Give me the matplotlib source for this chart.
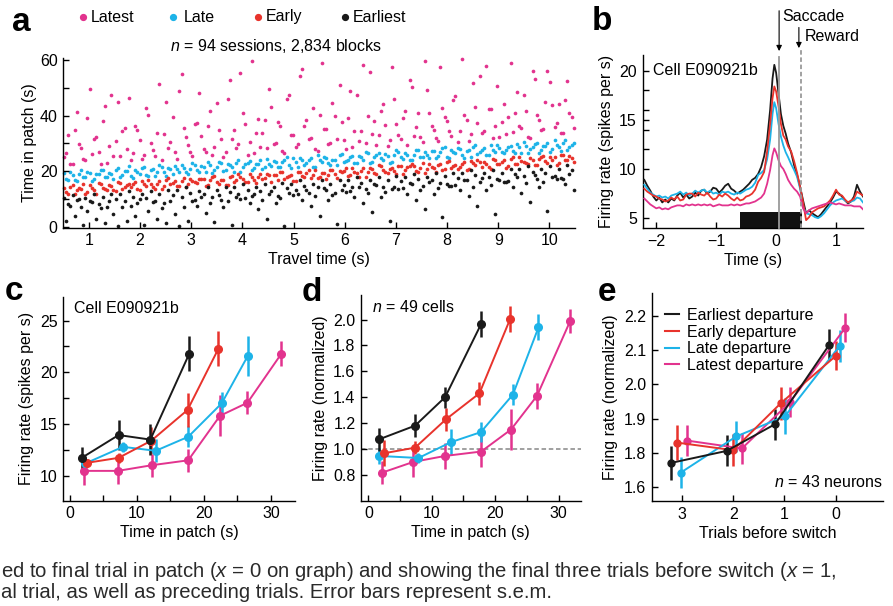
import matplotlib
matplotlib.use('Agg')
import matplotlib.pyplot as plt
from matplotlib.lines import Line2D
from matplotlib.patches import Rectangle

plt.rcParams['font.family'] = ['Liberation Sans', 'DejaVu Sans']
plt.rcParams['mathtext.fontset'] = 'custom'
plt.rcParams['mathtext.it'] = 'Liberation Sans:italic'
plt.rcParams['mathtext.rm'] = 'Liberation Sans'
plt.rcParams['axes.linewidth'] = 1.0
plt.rcParams['xtick.direction'] = 'in'
plt.rcParams['ytick.direction'] = 'in'

# ---------------- colours ----------------
C_LATEST = '#e2338e'
C_LATE = '#1db3e8'
C_EARLY = '#e8332c'
C_EARLIEST = '#1a1a1a'

# ---------------- panel a data ----------------
travel_x_a = [0.52,0.6,0.68,0.77,0.85,0.93,1.02,1.1,1.19,1.27,1.36,1.44,1.53,1.61,1.7,1.78,1.87,1.95,2.04,2.12,
              2.21,2.3,2.38,2.47,2.55,2.64,2.72,2.81,2.9,2.98,3.07,3.15,3.24,3.32,3.41,3.5,3.58,3.67,3.75,3.84,
              3.92,4.01,4.1,4.18,4.27,4.35,4.44,4.52,4.61,4.7,4.78,4.87,4.95,5.04,5.12,5.21,5.3,5.38,5.47,5.55,
              5.64,5.72,5.81,5.9,5.98,6.07,6.15,6.24,6.32,6.41,6.5,6.58,6.67,6.75,6.84,6.92,7.01,7.1,7.18,7.27,
              7.35,7.44,7.52,7.61,7.7,7.78,7.87,7.95,8.04,8.12,8.21,8.3,8.38,8.47,8.55,8.64,8.72,8.81,8.9,8.98,
              9.07,9.15,9.24,9.32,9.41,9.5,9.58,9.67,9.75,9.84,9.92,10.01,10.1,10.18,10.27,10.35,10.44]
travel_x_b = [0.56,0.64,0.72,0.81,0.89,0.97,1.06,1.14,1.23,1.31,1.4,1.48,1.57,1.65,1.74,1.82,1.91,1.99,2.08,2.16,
              2.25,2.34,2.42,2.51,2.59,2.68,2.76,2.85,2.94,3.02,3.11,3.19,3.28,3.36,3.45,3.54,3.62,3.71,3.79,3.88,
              3.96,4.05,4.14,4.22,4.31,4.39,4.48,4.56,4.65,4.74,4.82,4.91,4.99,5.08,5.16,5.25,5.34,5.42,5.51,5.59,
              5.68,5.76,5.85,5.94,6.02,6.11,6.19,6.28,6.36,6.45,6.54,6.62,6.71,6.79,6.88,6.96,7.05,7.14,7.22,7.31,
              7.39,7.48,7.56,7.65,7.74,7.82,7.91,7.99,8.08,8.16,8.25,8.34,8.42,8.51,8.59,8.68,8.76,8.85,8.94,9.02,
              9.11,9.19,9.28,9.36,9.45,9.54,9.62,9.71,9.79,9.88,9.96,10.05,10.14,10.22,10.31,10.39,10.48]

late_y_a = [19.4,17.0,18.6,16.4,20.5,18.0,19.5,17.1,19.0,20.6,18.1,19.0,20.3,17.9,20.0,21.8,17.6,19.8,21.2,18.8,
            20.4,18.2,22.3,19.8,21.3,18.9,20.8,22.4,19.9,20.8,22.1,19.6,21.7,23.5,19.3,21.5,22.9,20.5,22.1,19.9,
            24.0,21.5,23.0,20.6,22.5,24.1,21.6,22.5,23.8,21.4,23.5,25.3,21.1,23.3,24.7,22.3,23.9,21.7,25.7,23.2,
            24.7,22.3,24.2,25.8,23.3,24.2,25.5,23.1,25.2,27.0,22.8,25.0,26.4,24.0,25.6,23.4,27.5,25.0,26.5,24.1,
            26.0,27.6,25.1,26.0,27.3,24.9,27.0,28.8,24.6,26.8,28.2,25.8,27.4,25.2,29.3,26.8,28.3,25.9,27.8,29.4,
            26.9,27.8,29.1,26.7,28.8,30.6,26.4,28.6,30.0,27.6,29.2,27.0,31.1,28.6,30.1,27.7,29.6]
late_y_b = [17.3,19.9,16.7,19.2,18.1,19.7,16.5,19.2,20.3,17.9,19.3,17.4,21.2,18.7,20.2,18.2,20.6,19.0,21.6,18.4,
            20.9,19.8,21.4,18.2,20.9,22.0,19.6,21.0,19.1,22.9,20.4,21.8,19.8,22.2,20.6,23.2,20.0,22.5,21.4,23.0,
            19.8,22.5,23.6,21.2,22.6,20.7,24.5,22.0,23.5,21.5,23.9,22.3,24.9,21.7,24.2,23.1,24.7,21.5,24.1,25.2,
            22.8,24.2,22.3,26.1,23.6,25.1,23.1,25.5,23.9,26.5,23.3,25.8,24.7,26.3,23.1,25.8,26.9,24.5,25.9,24.0,
            27.8,25.3,26.8,24.8,27.2,25.6,28.2,25.0,27.5,26.4,28.0,24.8,27.5,28.6,26.2,27.6,25.7,29.5,27.0,28.5,
            26.5,28.9,27.3,29.9,26.7,29.2,28.1,29.7,26.5,29.2,30.3,27.9,29.3,27.4,31.2,28.7,30.2]
early_y_a = [14.0,12.0,15.0,13.1,13.8,11.9,14.9,13.1,15.9,14.1,13.1,14.8,12.8,15.8,14.4,15.6,15.6,13.6,16.6,14.7,
             15.4,13.5,16.5,14.7,17.5,15.7,14.7,16.4,14.4,17.4,16.0,17.1,17.1,15.1,18.1,16.2,16.9,15.0,18.0,16.2,
             19.0,17.2,16.2,17.9,15.9,18.9,17.5,18.7,18.7,16.7,19.7,17.8,18.5,16.6,19.6,17.8,20.6,18.8,17.7,19.4,
             17.4,20.4,19.0,20.2,20.2,18.2,21.2,19.3,20.0,18.1,21.1,19.3,22.1,20.3,19.3,21.0,19.0,22.0,20.6,21.8,
             21.8,19.8,22.8,20.9,21.6,19.7,22.7,20.9,23.7,21.9,20.9,22.6,20.6,23.6,22.2,23.4,23.4,21.4,24.4,22.5,
             23.2,21.3,24.3,22.5,25.3,23.5,22.5,24.2,22.2,25.2,23.8,25.0,25.0,23.0,26.0,24.1,24.8]
early_y_b = [12.7,14.5,11.9,14.1,15.3,12.7,13.9,12.0,15.4,13.8,15.1,13.1,16.2,13.8,15.0,14.2,16.0,13.4,15.6,16.8,
             14.2,15.4,13.5,16.9,15.3,16.6,14.6,17.7,15.3,16.5,15.7,17.4,14.8,17.0,18.2,15.6,16.8,14.9,18.3,16.7,
             18.0,16.0,19.1,16.7,17.9,17.1,18.9,16.3,18.5,19.7,17.1,18.3,16.4,19.8,18.2,19.5,17.5,20.6,18.1,19.3,
             18.5,20.3,17.7,19.9,21.1,18.5,19.7,17.8,21.2,19.6,20.9,18.9,22.0,19.6,20.8,20.0,21.8,19.2,21.4,22.6,
             20.0,21.2,19.3,22.7,21.1,22.4,20.4,23.5,21.1,22.3,21.5,23.3,20.7,22.9,24.1,21.5,22.7,20.8,24.2,22.6,
             23.9,21.9,25.0,22.6,23.8,23.0,24.8,22.2,24.4,25.6,23.0,24.2,22.3,25.7,24.1,25.4,23.4]
earliest_y_a = [10.5,8.1,11.6,9.6,7.2,10.5,9.2,11.7,8.2,10.6,7.2,11.9,10.1,11.8,9.4,12.9,10.9,8.5,11.8,10.5,
                13.0,9.5,11.9,8.5,13.2,11.4,13.1,10.7,14.2,12.2,9.8,13.0,11.7,14.2,10.7,13.1,9.7,14.4,12.6,14.3,
                11.9,15.4,13.4,11.0,14.3,13.0,15.5,12.0,14.4,11.0,15.7,13.9,15.6,13.2,16.7,14.7,12.3,15.6,14.2,16.7,
                13.2,15.6,12.2,16.9,15.1,16.8,14.4,17.9,15.9,13.5,16.8,15.5,18.0,14.5,16.9,13.5,18.2,16.4,18.1,15.7,
                19.2,17.2,14.8,18.1,16.8,19.3,15.8,18.2,14.8,19.5,17.7,19.4,17.0,20.5,18.5,16.1,19.4,18.1,20.6,17.1,
                19.5,16.1,20.8,19.0,20.7,18.3,21.8,19.8,17.4,20.7,19.4,21.9,18.4,20.8,17.4,22.1,20.3]
earliest_y_b = [2.0,7.5,4.1,10.2,0.8,5.6,8.9,3.0,6.7,1.5,9.4,4.8,0.3,7.0,2.0,7.5,4.1,10.2,0.8,5.6,
                8.9,3.0,6.7,1.5,9.4,4.8,0.3,7.0,2.0,9.4,7.4,10.8,5.1,8.6,1.8,11.6,7.3,9.2,0.6,10.9,
                10.1,10.5,8.5,12.0,6.3,9.8,3.0,12.8,8.5,10.4,0.4,12.1,11.3,11.7,9.7,13.2,7.5,11.0,4.1,13.9,
                9.6,11.5,1.0,13.2,12.4,12.8,10.8,14.3,8.6,12.1,5.3,15.1,10.8,12.7,2.2,14.4,13.6,14.0,12.0,15.5,
                9.8,13.3,6.5,16.3,12.0,13.9,3.4,15.6,14.8,15.2,13.2,16.7,11.0,14.5,7.7,17.5,13.2,15.1,4.6,16.8,
                16.0,16.4,14.4,17.9,12.2,15.7,8.9,18.7,14.4,16.3,5.8,18.0,17.2,17.6,15.6,19.1,13.4]
latest_y_a = [25.0,33.1,22.7,41.3,28.4,24.0,49.6,31.7,26.8,37.9,22.8,47.5,30.7,25.5,35.4,46.5,26.6,34.7,24.3,42.9,
              30.0,25.6,51.2,33.3,28.4,39.5,24.4,55.0,32.3,27.1,37.0,48.0,28.1,36.2,25.8,44.4,31.5,27.1,52.7,34.8,
              29.9,41.0,25.9,59.6,33.8,28.6,38.5,49.6,29.7,37.8,27.4,46.0,33.1,28.7,54.3,36.4,31.5,42.6,27.4,58.8,
              35.3,30.1,40.0,51.1,31.2,39.3,28.9,47.5,34.6,30.2,55.8,37.9,33.0,44.1,29.0,57.4,36.9,31.7,41.6,52.7,
              32.8,40.9,30.5,49.1,36.2,31.8,57.4,39.5,34.6,45.7,30.6,60.3,38.5,33.3,43.2,54.3,34.4,42.5,32.1,50.7,
              37.8,33.4,59.0,41.1,36.2,47.3,32.2,55.9,40.1,34.9,44.8,52.0,36.0,44.1,33.7,52.3,39.4]
latest_y_b = [26.5,22.6,34.7,29.8,24.4,39.0,26.1,32.2,22.5,43.4,29.0,25.6,45.0,34.3,27.9,24.0,36.1,31.2,25.8,40.4,
              27.5,33.6,23.9,44.8,30.4,27.0,49.0,35.7,29.3,25.4,37.5,32.5,27.1,41.7,28.8,34.9,25.2,46.1,31.7,28.3,
              55.4,37.0,30.6,26.7,38.8,33.9,28.5,43.1,30.2,36.3,26.6,47.5,33.1,29.7,56.8,38.4,32.0,28.1,40.1,35.2,
              29.8,44.4,31.5,37.6,27.9,48.8,34.4,31.0,58.1,39.7,33.3,29.4,41.5,36.6,31.2,45.8,32.9,39.0,29.3,50.2,
              35.8,32.4,59.5,41.1,34.7,30.8,42.9,38.0,32.6,47.2,34.3,40.4,30.7,51.6,37.2,33.8,57.8,42.5,36.1,32.2,
              44.3,39.4,34.0,48.6,35.7,41.8,32.1,53.0,38.6,35.2,56.2,43.9,37.5,33.6,45.7,40.8,35.4]

# ---------------- panel b data ----------------
time_s = [-2.2,-2.15,-2.1,-2.05,-2.0,-1.95,-1.9,-1.85,-1.8,-1.75,-1.7,-1.65,-1.6,-1.55,-1.5,-1.45,-1.4,-1.35,-1.3,-1.25,
          -1.2,-1.15,-1.1,-1.05,-1.0,-0.95,-0.9,-0.85,-0.8,-0.75,-0.7,-0.65,-0.6,-0.55,-0.5,-0.45,-0.4,-0.35,-0.3,-0.25,
          -0.2,-0.15,-0.1,-0.06,-0.03,0.0,0.04,0.08,0.12,0.16,0.2,
          0.25,0.3,0.35,0.4,0.45,0.5,0.55,0.6,0.65,0.7,0.75,0.8,0.85,0.9,0.95,1.0,1.05,1.1,1.15,1.2,1.25,1.3,1.35,1.4,1.45]
rate_earliest = [8.9,8.3,7.8,7.2,6.8,7.1,6.6,6.9,6.6,7.0, 6.8,7.3,7.6,7.1,7.4,7.0,7.2,7.6,7.3,7.8,
                 7.9,7.5,7.7,8.1,8.0,7.6,7.9,8.3,8.5,8.0, 7.8,7.5,7.7,7.9,8.2,8.5,8.9,9.1,9.5,10.2,
                 11.3,13.0,16.0,19.2,20.6,19.8,17.7,15.6,14.4,13.6,12.6,
                 11.7,10.4,9.4,8.2,6.8,5.5,5.8,5.5,5.3,5.1, 5.4,5.8,6.2,6.6,7.1,7.7,7.5,7.2,6.8,6.5, 6.7,7.2,8.4,7.7,7.2]
rate_late = [8.4,8.0,7.6,7.4,7.2,7.3,7.1,7.2,7.0,7.3, 7.4,7.5,7.7,7.4,7.6,7.3,7.5,7.8,7.6,7.8,
             7.9,7.6,7.8,7.5,7.6,7.4,7.7,7.6,7.7,7.5, 7.4,7.6,7.5,7.7,7.9,8.0,8.2,8.6,9.4,9.6,
             9.9,11.0,13.0,15.6,16.8,16.2,14.6,13.3,12.4,11.7,11.2,
             10.5,9.9,9.2,8.0,6.2,5.5,5.4,5.3,5.1,5.0, 5.2,5.5,5.9,6.3,6.6,6.8,6.9,7.0,6.8,6.6, 6.7,6.8,7.1,7.0,6.6]
rate_early = [8.0,7.7,7.5,7.3,7.2,7.0,6.9,6.7,6.8,7.1, 6.9,7.2,6.8,6.9,7.4,7.5,7.5,7.2,7.6,7.4,
              7.3,7.6,7.2,6.9,7.0,7.4,7.2,7.5,7.3,7.0, 6.8,7.1,6.8,6.9,7.2,7.3,7.5,7.9,8.7,9.1,
              9.7,11.8,14.6,17.2,18.4,17.9,16.4,14.6,13.4,13.0,12.3,
              11.8,10.8,9.6,8.2,6.6,4.8,5.1,5.6,5.8,6.0, 6.1,6.2,6.5,6.8,7.3,7.9,7.4,7.3,6.9,6.6, 6.8,7.0,7.7,7.5,7.3]
rate_latest = [7.0,6.7,6.4,6.2,6.0,6.1,5.9,6.0,5.9,6.1, 6.2,6.3,6.3,6.2,6.4,6.3,6.4,6.3,6.4,6.3,
               6.4,6.3,6.4,6.2,6.3,6.4,6.3,6.3,6.3,6.4, 6.3,6.4,6.3,6.4,6.5,6.5,6.6,6.7,6.9,7.1,
               7.5,8.5,9.9,11.4,12.1,11.7,10.9,10.3,10.0,9.5,8.9,
               8.4,8.0,7.7,7.2,6.0,5.5,5.8,6.0,6.1,6.2, 6.3,6.4,6.5,6.6,6.5,6.4,6.5,6.4,6.3,6.3, 6.3,6.2,6.2,6.2,5.9]
saccade_t = 0.05
reward_t = 0.42
epoch_t = [-0.6, 0.43]

# ---------------- panel c data ----------------
c_x = {'earliest': [1.75, 7.26, 12.0, 17.8],
       'early': [2.56, 7.26, 12.15, 17.55, 22.15],
       'late': [2.3, 7.9, 12.8, 17.65, 22.65, 26.55],
       'latest': [2.06, 7.15, 12.25, 17.65, 22.4, 26.5, 31.55]}
c_y = {'earliest': [11.74, 13.94, 13.5, 21.78],
       'early': [11.26, 11.74, 13.4, 16.36, 22.26],
       'late': [11.2, 12.8, 12.42, 13.77, 17.0, 21.58],
       'latest': [10.48, 10.48, 11.03, 11.5, 15.8, 17.06, 21.78]}
c_err = {'earliest': [1.05, 1.45, 1.5, 1.7],
         'early': [0.3, 0.5, 1.3, 1.6, 1.7],
         'late': [0.4, 0.5, 1.1, 1.0, 1.1, 1.9],
         'latest': [1.4, 1.3, 1.1, 1.1, 2.0, 1.1, 1.2]}

# ---------------- panel d data ----------------
d_x = {'earliest': [1.72, 7.36, 12.1, 17.8],
       'early': [2.5, 7.36, 12.26, 17.52, 22.37],
       'late': [1.72, 7.9, 13.0, 17.74, 22.8, 26.84],
       'latest': [2.1, 7.1, 12.1, 17.8, 22.5, 26.6, 31.85]}
d_y = {'earliest': [1.075, 1.18, 1.40, 1.967],
       'early': [0.967, 1.01, 1.23, 1.43, 2.005],
       'late': [0.946, 0.93, 1.052, 1.13, 1.42, 1.94],
       'latest': [0.816, 0.90, 0.946, 0.98, 1.15, 1.41, 1.99]}
d_err = {'earliest': [0.09, 0.09, 0.08, 0.1],
         'early': [0.1, 0.05, 0.09, 0.09, 0.1],
         'late': [0.06, 0.04, 0.1, 0.08, 0.08, 0.1],
         'latest': [0.09, 0.12, 0.1, 0.12, 0.155, 0.1, 0.09]}

# ---------------- panel e data ----------------
e_x = {'earliest': [3.21, 2.125, 1.18, 0.125],
       'early': [3.09, 2.0, 1.07, -0.006],
       'late': [3.02, 1.94, 0.99, -0.08],
       'latest': [2.9, 1.83, 0.89, -0.19]}
e_y = {'earliest': [1.771, 1.806, 1.884, 2.115],
       'early': [1.83, 1.808, 1.945, 2.083],
       'late': [1.743, 1.848, 1.907, 2.112],
       'latest': [1.836, 1.813, 1.948, 2.165]}
e_err = {'earliest': [0.049, 0.045, 0.045, 0.045],
         'early': [0.05, 0.046, 0.048, 0.042],
         'late': [0.044, 0.044, 0.053, 0.046],
         'latest': [0.045, 0.044, 0.044, 0.043]}
e_ticks = [1.7, 1.8, 1.9, 2.0, 2.1, 2.2]
e_ticklabels = ['1.6', '1.8', '1.9', '2.0', '2.1', '2.2']
e_legend = ['Earliest departure', 'Early departure', 'Late departure', 'Latest departure']

colors = {'earliest': C_EARLIEST, 'early': C_EARLY, 'late': C_LATE, 'latest': C_LATEST}
order = ['latest', 'late', 'early', 'earliest']

W, H = 893, 606
fig = plt.figure(figsize=(W / 100, H / 100), dpi=100)


def rect(l, t, r, b):
    return [l / W, 1 - b / H, (r - l) / W, (b - t) / H]


FS = 11.5


def style(ax):
    for s in ['top', 'right']:
        ax.spines[s].set_visible(False)
    ax.tick_params(labelsize=FS, length=4, width=1.0, pad=4)
    ax.tick_params(which='minor', length=4, width=1.0)


# ---------------- panel a ----------------
axa = fig.add_axes(rect(63.3, 58, 575, 227.5))
style(axa)
for xs, ys, col in [(travel_x_a, latest_y_a, C_LATEST), (travel_x_b, latest_y_b, C_LATEST),
                    (travel_x_a, late_y_a, C_LATE), (travel_x_b, late_y_b, C_LATE),
                    (travel_x_a, early_y_a, C_EARLY), (travel_x_b, early_y_b, C_EARLY),
                    (travel_x_a, earliest_y_a, C_EARLIEST), (travel_x_b, earliest_y_b, C_EARLIEST)]:
    axa.scatter(xs, ys, s=7, c=col, linewidths=0, clip_on=False)
axa.set_xlim(0.5, 10.5)
axa.set_ylim(-0.2, 60.7)
axa.set_xticks(range(1, 11))
axa.set_yticks([0, 20, 40, 60])
axa.set_yticks([10, 30, 50], minor=True)
axa.set_xlabel('Travel time (s)', fontsize=FS, labelpad=3)
axa.set_ylabel('Time in patch (s)', fontsize=FS, labelpad=2)
fig.text(276 / W, 1 - 46 / H, '$n$ = 94 sessions, 2,834 blocks', ha='center', va='center', fontsize=FS)

# legend of panel a
for mx, tx, lab, col in [(82.8, 90.5, 'Latest', C_LATEST), (173.2, 184, 'Late', C_LATE),
                         (257.5, 266, 'Early', C_EARLY), (344.8, 352.5, 'Earliest', C_EARLIEST)]:
    fig.add_artist(Line2D([mx / W], [1 - 17 / H], marker='o', ms=4.2, color=col, lw=0,
                          transform=fig.transFigure))
    fig.text(tx / W, 1 - 17 / H, lab, ha='left', va='center', fontsize=FS)

# ---------------- panel b ----------------
axb = fig.add_axes(rect(642.5, 55, 863, 228))
style(axb)
axb.set_xlim(-2.23, 1.45)
axb.set_ylim(4.0, 21.6)
axb.add_patch(Rectangle((epoch_t[0], 4.0), epoch_t[1] - epoch_t[0], 1.6, color='#111111', lw=0, zorder=2))
axb.plot([saccade_t, saccade_t], [4.0, 21.4], color='#9a9a9a', lw=1.3, zorder=4, clip_on=False)
axb.plot([reward_t, reward_t], [4.0, 22.1], color='#9a9a9a', lw=1.3, ls=(0, (2.5, 1.5)), zorder=4, clip_on=False)
for rates, col in [(rate_earliest, C_EARLIEST), (rate_late, C_LATE), (rate_early, C_EARLY), (rate_latest, C_LATEST)]:
    axb.plot(time_s, rates, color=col, lw=1.3, zorder=3)
axb.set_xticks([-2, -1, 0, 1])
axb.set_xticklabels(['\u22122', '\u22121', '0', '1'])
axb.set_yticks([5, 10, 15, 20])
axb.set_yticks([12, 14, 16, 18], minor=True)
axb.set_xlabel('Time (s)', fontsize=FS, labelpad=3)
axb.set_ylabel('Firing rate (spikes per s)', fontsize=FS, labelpad=4)
axb.text(-2.05, 20.0, 'Cell E090921b', fontsize=FS, ha='left', va='center')
axb.annotate('', xy=(saccade_t, 22.0), xytext=(saccade_t, 26.1), annotation_clip=False,
             arrowprops=dict(arrowstyle='-|>', color='k', lw=0.8, mutation_scale=8, shrinkA=0, shrinkB=0))
axb.annotate('', xy=(0.38, 22.3), xytext=(0.38, 24.4), annotation_clip=False,
             arrowprops=dict(arrowstyle='-|>', color='k', lw=0.8, mutation_scale=8, shrinkA=0, shrinkB=0))
axb.text(0.1, 25.5, 'Saccade', fontsize=FS, ha='left', va='center', clip_on=False)
axb.text(0.47, 23.5, 'Reward', fontsize=FS, ha='left', va='center', clip_on=False)


def err_panel(ax, xs, ys, es):
    for k in order:
        ax.errorbar(xs[k], ys[k], yerr=es[k], color=colors[k], marker='o', ms=5.5, lw=1.4,
                    elinewidth=1.8, capsize=0, clip_on=False)


# ---------------- panel c ----------------
axc = fig.add_axes(rect(63.3, 296.7, 295, 500.7))
style(axc)
err_panel(axc, c_x, c_y, c_err)
axc.set_xlim(-1.0, 33.6)
axc.set_ylim(7.6, 27.3)
axc.set_xticks([0, 10, 20, 30])
axc.set_xticks([5, 15, 25], minor=True)
axc.set_yticks([10, 15, 20, 25])
axc.set_yticks([12.5, 17.5, 22.5], minor=True)
axc.set_xlabel('Time in patch (s)', fontsize=FS, labelpad=3)
axc.set_ylabel('Firing rate (spikes per s)', fontsize=FS, labelpad=4)
axc.text(0.6, 26.2, 'Cell E090921b', fontsize=FS, ha='left', va='center')

# ---------------- panel d ----------------
axd = fig.add_axes(rect(361, 295, 580.7, 500.7))
style(axd)
axd.axhline(1.0, color='#999999', lw=1.3, ls=(0, (2.5, 1.5)), zorder=0)
err_panel(axd, d_x, d_y, d_err)
axd.set_xlim(-1.17, 33.5)
axd.set_ylim(0.60, 2.19)
axd.set_xticks([0, 10, 20, 30])
axd.set_xticks([5, 15, 25], minor=True)
axd.set_yticks([0.8, 1.0, 1.2, 1.4, 1.6, 1.8, 2.0])
axd.set_yticklabels(['0.8', '1.0', '1.2', '1.4', '1.6', '1.8', '2.0'])
axd.set_xlabel('Time in patch (s)', fontsize=FS, labelpad=3)
axd.set_ylabel('Firing rate (normalized)', fontsize=FS, labelpad=4)
axd.text(0.5, 2.1, '$n$ = 49 cells', fontsize=FS, ha='left', va='center')

# ---------------- panel e ----------------
axe = fig.add_axes(rect(651.7, 293.3, 883.3, 501))
style(axe)
for k in order:
    axe.errorbar(e_x[k], e_y[k], yerr=e_err[k], color=colors[k], marker='o', ms=5.0, lw=1.4,
                 elinewidth=1.8, capsize=0)
axe.set_xlim(3.59, -0.93)
axe.set_ylim(1.66, 2.265)
axe.set_xticks([3, 2, 1, 0])
axe.set_yticks(e_ticks)
axe.set_yticklabels(e_ticklabels)
axe.set_xlabel('Trials before switch', fontsize=FS, labelpad=3)
axe.set_ylabel('Firing rate (normalized)', fontsize=FS, labelpad=4)
handles = [Line2D([0], [0], color=colors[k], lw=1.5) for k in ['earliest', 'early', 'late', 'latest']]
axe.legend(handles, e_legend, loc='upper left', bbox_to_anchor=(0.03, 0.96), frameon=False,
           fontsize=FS, handlelength=0.9, handletextpad=0.5, labelspacing=0.1, borderaxespad=0)
axe.text(0.995, 0.09, '$n$ = 43 neurons', transform=axe.transAxes, fontsize=FS, ha='right', va='center')

# ---------------- panel letters ----------------
for lx, ly, letter in [(21, 31, 'a'), (602, 30, 'b'), (14, 300, 'c'), (312, 301, 'd'), (607, 301, 'e')]:
    fig.text(lx / W, 1 - ly / H, letter, fontsize=24, fontweight='bold', ha='center', va='baseline')

# ---------------- caption fragment ----------------
cap_font = ['Liberation Sans Narrow', 'Liberation Sans', 'DejaVu Sans']
fig.text(0.001, 1 - 577 / H, 'ed to final trial in patch ($x$ = 0 on graph) and showing the final three trials before switch ($x$ = 1,',
         fontsize=14.6, family=cap_font, ha='left', va='baseline', color='#2a2a2a')
fig.text(0.001, 1 - 598 / H, 'al trial, as well as preceding trials. Error bars represent s.e.m.',
         fontsize=14.6, family=cap_font, ha='left', va='baseline', color='#2a2a2a')

fig.savefig('out.png', dpi=100)
